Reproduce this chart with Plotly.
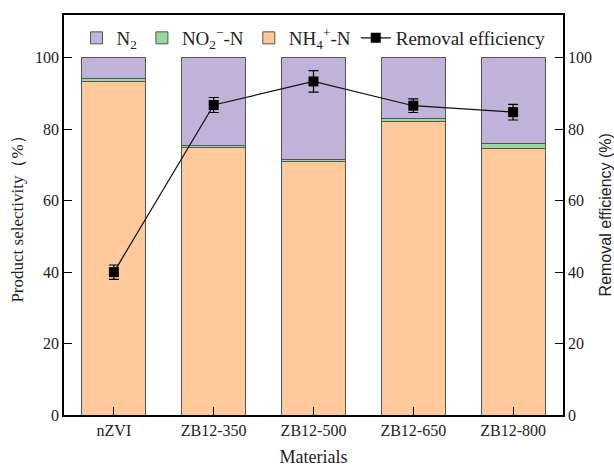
import plotly.graph_objects as go

materials = ["nZVI", "ZB12-350", "ZB12-500", "ZB12-650", "ZB12-800"]
nh4 = [93.3, 74.8, 70.9, 82.1, 74.7]
no2 = [1.0, 0.8, 0.6, 1.0, 1.3]
n2 = [100 - a - b for a, b in zip(nh4, no2)]
removal = [40.0, 86.8, 93.4, 86.6, 84.8]
removal_err = [2.0, 2.1, 3.0, 1.9, 2.2]

serif = "Liberation Serif"
line_col = "#555555"

fig = go.Figure()
fig.add_trace(go.Bar(x=materials, y=nh4, name="NH<sub>4</sub><sup>+</sup>-N", legendrank=3,
                     marker=dict(color="#FFC99B", line=dict(color=line_col, width=1))))
fig.add_trace(go.Bar(x=materials, y=no2, name="NO<sub>2</sub><sup>−</sup>-N", legendrank=2,
                     marker=dict(color="#98D7A0", line=dict(color=line_col, width=1))))
fig.add_trace(go.Bar(x=materials, y=n2, name="N<sub>2</sub>", legendrank=1,
                     marker=dict(color="#BFB3D9", line=dict(color=line_col, width=1))))
fig.add_trace(go.Scatter(x=materials, y=removal, name="Removal efficiency", legendrank=4,
                         yaxis="y2", mode="lines+markers",
                         line=dict(color="#111111", width=1.2),
                         marker=dict(symbol="square", size=10, color="black"),
                         error_y=dict(type="data", array=removal_err, color="black",
                                      thickness=1.2, width=5)))

fig.update_layout(
    width=614, height=468,
    margin=dict(l=64, r=51, t=15, b=53, autoexpand=False),
    barmode="stack", bargap=0.36,
    paper_bgcolor="white", plot_bgcolor="white",
    font=dict(family=serif, size=16, color="#222222"),
    showlegend=True,
    legend=dict(orientation="h", x=0.5, xanchor="center", y=0.99, yanchor="top",
                traceorder="normal",
                font=dict(size=19, family=serif), bgcolor="rgba(0,0,0,0)",
                itemwidth=30, tracegroupgap=0),
    xaxis=dict(title=dict(text="Materials", font=dict(size=18), standoff=12),
               showline=True, linecolor="black", linewidth=1.5, mirror=True,
               ticks="inside", ticklen=8, tickcolor="black", range=[-0.5, 4.5],
               tickfont=dict(size=16)),
    yaxis=dict(title=dict(text="Product selectivity（%）", font=dict(size=17), standoff=7),
               range=[0, 112], tickvals=[0, 20, 40, 60, 80, 100],
               showline=True, linecolor="black", linewidth=1.5,
               ticks="inside", ticklen=8, tickcolor="black", showgrid=False, zeroline=False,
               tickfont=dict(size=16)),
    yaxis2=dict(overlaying="y", side="right", range=[0, 112], tickvals=[0, 20, 40, 60, 80, 100],
                showline=True, linecolor="black", linewidth=1.5,
                ticks="inside", ticklen=8, tickcolor="black", showgrid=False, zeroline=False,
                tickfont=dict(size=16)),
    annotations=[dict(text="Removal efficiency (%)", xref="paper", yref="paper",
                      x=1.085, y=0.5, xanchor="center", yanchor="middle", textangle=-90,
                      showarrow=False, font=dict(size=16, family="Liberation Sans", color="#222222"))],
)
fig.write_html("out.html", config={"displayModeBar": False},
               post_script="document.body.style.margin='0';document.body.style.padding='0';document.body.style.overflow='hidden';")
